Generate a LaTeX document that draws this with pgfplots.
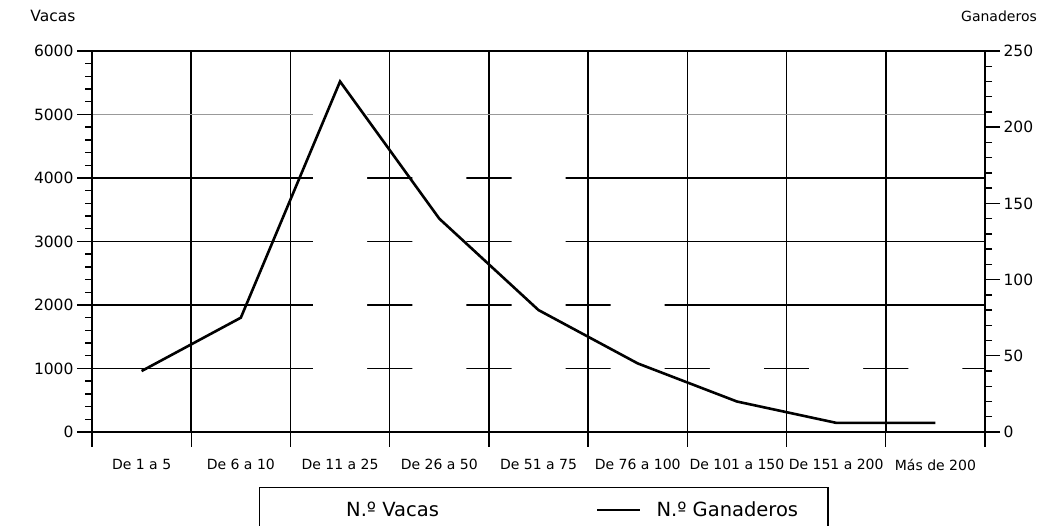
\documentclass[border=0pt]{standalone}
\usepackage{fontspec}
\setmainfont{DejaVu Sans}
\usepackage{pgfplots}
\pgfplotsset{compat=1.18}
\begin{document}
\begin{tikzpicture}
\path[use as bounding box] (0,0) rectangle (1038pt,526pt);
\begin{axis}[
  at={(92pt,94pt)}, anchor=south west,
  width=893pt, height=381pt, scale only axis,
  xmin=0.5, xmax=9.5, ymin=0, ymax=6000,
  xtick={0.5,1.5,2.5,3.5,4.5,5.5,6.5,7.5,8.5,9.5},
  x tick label as interval,
  xticklabels={De 1 a 5,De 6 a 10,De 11 a 25,De 26 a 50,De 51 a 75,De 76 a 100,De 101 a 150,De 151 a 200,Más de 200},
  xtick pos=left, ytick pos=left,
  ytick={0,1000,2000,3000,4000,6000},
  extra y ticks={5000},
  extra y tick style={major grid style={gray!80, line width=1.6pt}},
  minor ytick={0,200,...,6000},
  tick align=outside,
  major tick length=15pt, minor tick length=7pt,
  tick style={black, line width=1.4pt},
  xmajorgrids, ymajorgrids,
  major grid style={black, line width=1.6pt},
  axis line style={line width=2.6pt},
  /pgf/number format/assume math mode=true,
  /pgf/number format/1000 sep={},
  yticklabel style={font=\fontsize{15.5}{18}\selectfont},
  xticklabel style={font=\fontsize{14}{16}\selectfont, yshift=-9pt},
  ylabel={Vacas},
  ylabel style={rotate=-90, at={(axis description cs:-0.0437,1.092)}, anchor=center, font=\fontsize{15.5}{18}\selectfont},
]
\addplot[ybar, bar width=54pt, fill=white, draw=none] coordinates {
  (1,150) (2,600) (3,5500) (4,4850) (5,4300) (6,2500) (7,1400) (8,1100) (9,1300)
};
\end{axis}
\begin{axis}[
  at={(92pt,94pt)}, anchor=south west,
  width=893pt, height=381pt, scale only axis,
  xmin=0.5, xmax=9.5, ymin=0, ymax=250,
  xtick=\empty,
  ytick={0,50,100,150,200,250},
  minor y tick num=4,
  ytick pos=right, yticklabel pos=right,
  tick align=outside,
  major tick length=15pt, minor tick length=7pt,
  tick style={black, line width=1.4pt},
  axis line style={line width=2.6pt},
  /pgf/number format/assume math mode=true,
  yticklabel style={font=\fontsize{15.5}{18}\selectfont},
  ylabel={Ganaderos},
  ylabel style={rotate=-90, at={(axis description cs:1.0157,1.092)}, anchor=center, font=\fontsize{14}{16}\selectfont},
  legend columns=2,
  legend style={at={(0.506,-0.144)}, anchor=north, draw=black, line width=1.6pt,
    inner xsep=27pt, inner ysep=11pt, font=\fontsize{19.5}{22}\selectfont,
    nodes={inner sep=3pt},
    column sep=12pt,
    /tikz/every even column/.append style={column sep=154pt}},
  legend image code/.code={\draw[#1] (0pt,0pt) -- (43pt,0pt);},
]
\addlegendimage{legend image code/.code={\fill[white] (0pt,-5pt) rectangle (43pt,5pt);}}
\addlegendentry{N.º Vacas}
\addplot[black, line width=2.6pt] coordinates {
  (1,40) (2,75) (3,230) (4,140) (5,80) (6,45) (7,20) (8,6) (9,6)
};
\addlegendentry{N.º Ganaderos\hspace{11pt}}
\end{axis}
\end{tikzpicture}
\end{document}
